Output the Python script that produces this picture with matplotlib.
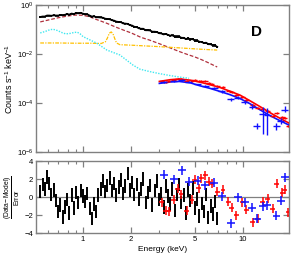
import numpy as np
import matplotlib
matplotlib.use('Agg')
import matplotlib.pyplot as plt
from matplotlib.ticker import FixedLocator, NullFormatter, FixedFormatter

plt.rcParams['font.family'] = ['Liberation Sans', 'DejaVu Sans']
plt.rcParams['mathtext.fontset'] = 'custom'
plt.rcParams['mathtext.rm'] = 'Liberation Sans'
plt.rcParams['mathtext.it'] = 'Liberation Sans:italic'
plt.rcParams['mathtext.bf'] = 'Liberation Sans:bold'
plt.rcParams['mathtext.default'] = 'regular'

# ---------------- data ----------------
# black (soft X-ray) spectrum
black_E = [0.540, 0.558, 0.576, 0.595, 0.614, 0.634, 0.655, 0.677, 0.699, 0.722,
           0.745, 0.770, 0.795, 0.821, 0.848, 0.876, 0.904, 0.934, 0.965, 0.996,
           1.029, 1.063, 1.098, 1.134, 1.171, 1.209, 1.249, 1.290, 1.332, 1.376,
           1.421, 1.468, 1.516, 1.566, 1.617, 1.670, 1.725, 1.781, 1.840, 1.900,
           1.963, 2.027, 2.094, 2.162, 2.233, 2.307, 2.382, 2.460, 2.541, 2.625,
           2.711, 2.800, 2.891, 2.986, 3.084, 3.185, 3.290, 3.398, 3.509, 3.624,
           3.743, 3.866, 3.993, 4.124, 4.259, 4.399, 4.543, 4.692, 4.846, 5.005,
           5.169, 5.339, 5.514, 5.695, 5.882, 6.075, 6.274, 6.480, 6.692, 6.900]
black_logc = [-0.49, -0.47, -0.47, -0.43, -0.43, -0.44, -0.42, -0.43, -0.43, -0.41,
              -0.42, -0.40, -0.37, -0.39, -0.35, -0.37, -0.33, -0.34, -0.32, -0.35,
              -0.38, -0.38, -0.43, -0.47, -0.46, -0.50, -0.50, -0.51, -0.52, -0.56,
              -0.57, -0.58, -0.62, -0.64, -0.68, -0.69, -0.70, -0.75, -0.76, -0.77,
              -0.82, -0.84, -0.89, -0.90, -0.95, -0.97, -0.97, -1.03, -1.03, -1.04,
              -1.09, -1.09, -1.10, -1.15, -1.16, -1.20, -1.18, -1.22, -1.25, -1.24,
              -1.29, -1.29, -1.29, -1.34, -1.34, -1.39, -1.36, -1.40, -1.39, -1.45,
              -1.45, -1.50, -1.51, -1.55, -1.54, -1.60, -1.60, -1.65, -1.65, -1.71]
black_res = [0.6, 1.4, 0.9, 2.2, 1.5, 0.3, 0.8, -0.4, -1.6, -0.9,
             -2.2, -1.1, -0.3, -1.8, 0.2, -1.2, 0.5, -0.6, 0.7, 0.1,
             -0.5, 0.4, -1.3, -2.4, -0.8, -1.6, 0.2, 0.9, 1.8, 0.6,
             1.3, 2.1, 0.7, 1.5, 0.2, 1.1, 1.9, 0.4, 1.2, 2.6,
             0.8, 1.6, 0.3, 1.4, -0.2, 0.9, 2.0, -0.6, 0.5, 1.3,
             -0.9, 0.7, 1.8, -0.3, 0.4, -1.1, 1.2, 0.1, -0.8, 0.9,
             -1.5, 0.3, 1.4, -0.6, 0.2, -1.8, 0.8, -0.4, 1.0, -1.2,
             -0.2, -2.1, -0.7, -1.6, 0.3, -2.3, -1.0, -1.9, -0.5, -2.4]

# model components (log10 counts)
warm_E = [0.54, 0.6, 0.7, 0.8, 0.9, 1.0, 1.1, 1.2, 1.4, 1.6, 1.8, 2.0, 2.3, 2.6,
          3.0, 3.5, 4.0, 4.5, 5.0, 5.5, 6.0, 6.5, 6.9]
warm_log = [-0.69, -0.62, -0.52, -0.45, -0.41, -0.42, -0.48, -0.58, -0.74, -0.90,
            -1.03, -1.14, -1.32, -1.43, -1.58, -1.75, -1.90, -2.02, -2.12, -2.23,
            -2.34, -2.45, -2.53]
line_E = [0.54, 0.7, 0.9, 1.1, 1.3, 1.38, 1.42, 1.46, 1.5, 1.54, 1.58, 1.62, 1.7,
          2.0, 3.0, 4.0, 5.0, 6.0, 6.9]
line_log = [-1.55, -1.55, -1.56, -1.56, -1.57, -1.50, -1.35, -1.15, -1.10, -1.18,
            -1.38, -1.55, -1.62, -1.64, -1.70, -1.75, -1.79, -1.82, -1.84]
soft_E = [0.54, 0.58, 0.62, 0.65, 0.69, 0.74, 0.78, 0.83, 0.88, 0.92, 0.96, 1.0,
          1.1, 1.22, 1.41, 1.7, 2.05, 2.27, 2.62, 3.0, 3.5, 4.0, 4.6]
soft_log = [-1.14, -1.08, -1.01, -0.99, -1.04, -1.13, -1.18, -1.16, -1.12, -1.11,
            -1.18, -1.29, -1.42, -1.56, -1.84, -2.04, -2.45, -2.62, -2.72, -2.80,
            -2.88, -2.94, -2.99]

# hard X-ray models
hard_E = [3.0, 3.5, 4.0, 4.7, 5.4, 6.2, 7.2, 8.3, 9.6, 11.0, 12.8, 14.8, 17.0, 19.4]
red_model = [-3.12, -3.05, -3.02, -3.07, -3.15, -3.25, -3.37, -3.52, -3.68, -3.90,
             -4.15, -4.40, -4.62, -4.82]
blue_model = [-3.20, -3.14, -3.12, -3.18, -3.30, -3.40, -3.53, -3.66, -3.82, -4.02,
              -4.28, -4.52, -4.72, -4.90]

# red data
red_E = [3.1, 3.3, 3.45, 3.7, 3.9, 4.1, 4.45, 4.8, 5.0, 5.3, 5.5, 5.8, 6.1, 6.4,
         6.9, 7.5, 8.1, 8.5, 9.1, 9.9, 10.5, 11.5, 12.4, 13.3, 14.3, 15.4, 16.3,
         17.6, 18.3, 19.2]
red_log = [-3.12, -3.13, -3.11, -3.06, -3.00, -3.02, -3.11, -3.11, -3.05, -3.11,
           -3.10, -3.12, -3.18, -3.22, -3.30, -3.36, -3.49, -3.57, -3.68, -3.74,
           -3.87, -4.10, -4.22, -4.24, -4.32, -4.52, -4.39, -4.59, -4.63, -4.93]
red_res = [-0.6, -1.5, -1.6, -0.3, 0.9, 0.3, -1.5, -0.3, 1.9, 1.0, 2.1, 2.4, 1.7,
           1.5, 0.6, 0.8, -0.5, -1.2, -2.0, -0.6, -1.4, -2.8, -2.4, -0.5, -0.2,
           -1.3, 1.5, 0.5, 0.8, -1.7]

# blue data
blue_E = [3.2, 3.7, 4.15, 4.6, 5.2, 5.8, 6.6, 7.4, 8.4, 9.3, 10.3, 11.4, 12.2, 13.3,
          14.2, 16.2, 17.3, 18.3]
blue_log = [-3.14, -3.10, -3.06, -3.13, -3.24, -3.30, -3.38, -3.53, -3.84, -3.78,
            -3.95, -4.15, -4.95, -4.45, -4.50, -4.95, -4.72, -4.28]
blue_elo = [0.03, 0.03, 0.03, 0.03, 0.03, 0.04, 0.04, 0.05, 0.06, 0.06, 0.08, 0.10,
            0.12, 0.8, 0.8, 0.15, 0.12, 0.10]
blue_ehi = [0.03, 0.03, 0.03, 0.03, 0.03, 0.04, 0.04, 0.05, 0.06, 0.06, 0.08, 0.10,
            0.12, 0.3, 0.3, 0.12, 0.12, 0.15]
blue_res = [2.5, 2.0, 3.0, 1.7, 1.8, 1.3, 1.6, 0.1, -2.9, 0.0, -0.6, -1.2, -2.4,
            -1.0, -0.9, -2.1, -0.4, 2.2]

# ---------------- figure ----------------
GRAY = '#808080'
fig = plt.figure(figsize=(2.91, 2.56), dpi=100)
ax1 = fig.add_axes([36/291, 1-152/256, 253/291, 147/256])
ax2 = fig.add_axes([36/291, 1-233/256, 253/291, 72/256])

def lin(v):
    return 10 ** np.asarray(v, dtype=float)

bE = np.asarray(black_E)
bc = lin(black_logc)
b_dex = np.asarray([0.025] * 40 + [0.035] * 20 + [0.05] * 20)
blo = bc - bc / 10 ** b_dex
bhi = bc * 10 ** b_dex - bc
ax1.errorbar(bE, bc, yerr=[blo, bhi], xerr=bE * 0.016, fmt='none', ecolor='black',
             elinewidth=1.1, capsize=0, zorder=4)
ax1.plot(bE, bc, color='black', lw=1.3, zorder=4)

ax1.plot(warm_E, lin(warm_log), color='#b0303c', lw=0.9, ls=(0, (3, 1.5)), zorder=3)
ax1.plot(line_E, lin(line_log), color='#ffc000', lw=0.9, ls=(0, (3, 1, 1, 1)), zorder=3)
ax1.plot(soft_E, lin(soft_log), color='#40e8f0', lw=1.0, ls=(0, (1, 1)), zorder=3)

ax1.plot(hard_E, lin(red_model), color='#ff0000', lw=1.2, zorder=5)
ax1.plot(hard_E, lin(blue_model), color='#1010ff', lw=1.2, zorder=5)

rE = np.asarray(red_E)
rc = lin(red_log)
ax1.errorbar(rE, rc, yerr=[rc - rc / 10**0.04, rc * 10**0.04 - rc], xerr=rE * 0.035,
             fmt='none', ecolor='#ff0000', elinewidth=1.0, capsize=0, zorder=6)
blE = np.asarray(blue_E)
blc = lin(blue_log)
ax1.errorbar(blE, blc, yerr=[blc - blc / 10**np.asarray(blue_elo),
                             blc * 10**np.asarray(blue_ehi) - blc],
             xerr=blE * 0.05, fmt='none', ecolor='#1010ff', elinewidth=1.0,
             capsize=0, zorder=6)

# residuals
ax2.axhline(0, color=GRAY, lw=0.9, zorder=1)
ax2.errorbar(bE, black_res, yerr=0.75, fmt='none', ecolor='black', elinewidth=1.4,
             capsize=0, zorder=3)
ax2.errorbar(rE, red_res, yerr=0.5, xerr=rE * 0.035, fmt='none', ecolor='#ff0000',
             elinewidth=1.1, capsize=0, zorder=4)
ax2.errorbar(blE, blue_res, yerr=0.5, xerr=blE * 0.055, fmt='none', ecolor='#1010ff',
             elinewidth=1.1, capsize=0, zorder=4)

# ---------------- axes styling ----------------
xmaj = [1, 2, 5, 10]
xmin = [0.6, 0.7, 0.8, 0.9, 3, 4, 6, 7, 8, 9]
for ax in (ax1, ax2):
    ax.set_xscale('log')
    ax.set_xlim(0.508, 19.4)
    ax.xaxis.set_major_locator(FixedLocator(xmaj))
    ax.xaxis.set_minor_locator(FixedLocator(xmin))
    ax.xaxis.set_minor_formatter(NullFormatter())
    for s in ax.spines.values():
        s.set_color(GRAY)
        s.set_linewidth(1.0)
    ax.tick_params(which='both', direction='in', top=True, right=True,
                   color=GRAY, labelsize=5.5, pad=2)
    ax.tick_params(which='major', length=4, width=0.9)
    ax.tick_params(which='minor', length=2.5, width=0.8)

ax1.set_yscale('log')
ax1.set_ylim(1e-6, 1.0)
ax1.yaxis.set_major_locator(FixedLocator([1e-6, 1e-4, 1e-2, 1e0]))
ax1.yaxis.set_major_formatter(FixedFormatter(['$10^{-6}$', '$10^{-4}$', '$10^{-2}$', '$10^{0}$']))
ax1.yaxis.set_minor_locator(FixedLocator([]))
ax1.xaxis.set_major_formatter(NullFormatter())
ax1.set_ylabel('Counts s$^{-1}$ keV$^{-1}$', fontsize=6.5, labelpad=1)

ax2.set_ylim(-4, 4)
ax2.yaxis.set_major_locator(FixedLocator([-4, -2, 0, 2, 4]))
ax2.yaxis.set_minor_locator(FixedLocator([]))
ax2.xaxis.set_major_formatter(FixedFormatter(['1', '2', '5', '10']))
ax2.set_xlabel('Energy (keV)', fontsize=6, labelpad=2)
ax2.set_ylabel(r'$\frac{\mathregular{(Data\!-\!Model)}}{\mathregular{Error}}$',
               fontsize=7, labelpad=2)

fig.text(257/291, 1-32/256, 'D', fontsize=11, fontweight='bold', ha='center',
         va='center')

fig.savefig('out.png', dpi=100)
